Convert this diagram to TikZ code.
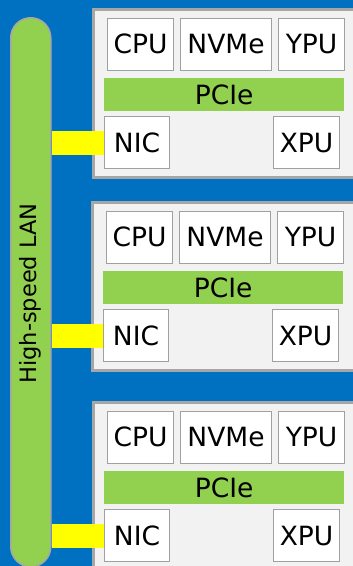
\documentclass[tikz,border=0pt]{standalone}
\usepackage{fontspec}
\setmainfont{DejaVu Sans}
\definecolor{deskblue}{HTML}{0070C0}
\definecolor{lanGreen}{HTML}{92D050}
\definecolor{edgeGrey}{HTML}{A6A6A6}
\definecolor{partEdge}{HTML}{A0A0A0}
\definecolor{shelfGrey}{HTML}{F2F2F2}
\definecolor{linkYellow}{HTML}{FFFF00}
\pgfdeclarelayer{back}
\pgfdeclarelayer{front}
\pgfsetlayers{back,main,front}
\newcommand{\partfont}{\fontsize{26.5}{26.5}\selectfont}
\newcommand{\lanfont}{\fontsize{22.5}{22.5}\selectfont}
\begin{document}
\begin{tikzpicture}[x=1pt,y=-1pt,
  server/.style={draw=edgeGrey, line width=2.5pt, fill=shelfGrey, inner sep=0pt, anchor=north west},
  part/.style={draw=partEdge, line width=1.1pt, fill=white, inner sep=0pt, anchor=north west, font=\partfont},
  bus/.style={fill=lanGreen, inner sep=0pt, anchor=north west, font=\partfont},
  lanbar/.style={draw=edgeGrey, line width=1.5pt, fill=lanGreen, rounded corners=20pt, inner sep=0pt},
  link/.style={draw=linkYellow, line width=24pt}]
  \useasboundingbox (0,0) rectangle (353,566);
  \clip (0,0) rectangle (353,566);
  \begin{pgfonlayer}{back}
    \fill[deskblue] (0,0) rectangle (353,566);
  \end{pgfonlayer}
  % shared network backbone
  \node[lanbar, minimum width=40pt, minimum height=549pt, anchor=north west] (lan) at (10,17) {};
  \node[rotate=90, font=\lanfont, inner sep=0pt] (lanlabel) at (30,293.5) {High-speed LAN};
  % three identical servers
  \foreach \i/\t/\dx in {1/8/0, 2/201/-1, 3/401/0}{
    \node[server, minimum width=270pt, minimum height=168pt] (srv\i) at ({92+\dx},\t) {};
    \begin{pgfonlayer}{front}
      \node[part, minimum width=66pt, minimum height=52pt] (cpu\i) at ({107+\dx},{\t+9.5}) {CPU};
      \node[part, minimum width=91pt, minimum height=52pt] (nvme\i) at ({180+\dx},{\t+9.5}) {NVMe};
      \node[part, minimum width=66pt, minimum height=52pt] (ypu\i) at ({278+\dx},{\t+9.5}) {YPU};
      \node[bus, minimum width=240pt, minimum height=33pt] (pcie\i) at ({104+\dx},{\t+70}) {PCIe};
      \node[part, minimum width=65pt, minimum height=52pt] (nic\i) at ({104+\dx},{\t+108}) {NIC};
      \node[part, minimum width=66pt, minimum height=52pt] (xpu\i) at ({273+\dx},{\t+108}) {XPU};
    \end{pgfonlayer}
    % NIC uplink to the LAN
    \draw[link] (nic\i.west -| lan.east) -- (nic\i.west);
  }
\end{tikzpicture}
\end{document}
